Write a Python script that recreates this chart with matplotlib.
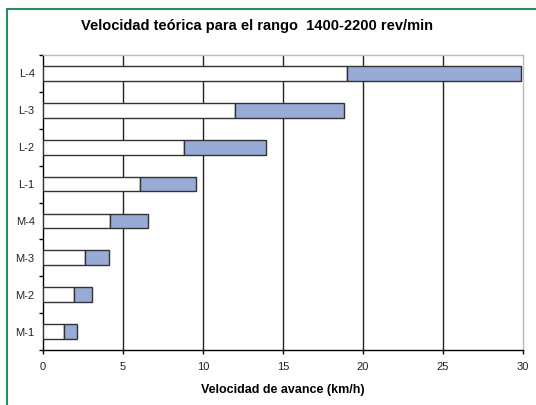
import matplotlib
matplotlib.use("Agg")
import matplotlib.pyplot as plt
from matplotlib.patches import Rectangle
import numpy as np

categories = ["M-1", "M-2", "M-3", "M-4", "L-1", "L-2", "L-3", "L-4"]
v_low = [1.29, 1.92, 2.65, 4.17, 6.08, 8.83, 12.0, 19.0]      # 1400 rev/min
v_high = [2.15, 3.04, 4.10, 6.56, 9.56, 13.96, 18.8, 29.9]    # 2200 rev/min
x_ticks = [0, 5, 10, 15, 20, 25, 30]

plt.rcParams['font.family'] = ['Liberation Sans', 'DejaVu Sans']

fig = plt.figure(figsize=(5.36, 4.05), dpi=100)
ax = fig.add_axes([43/536, 1-350/405, 480/536, 295/405])

y = np.arange(len(categories))
low = np.array(v_low)
high = np.array(v_high)
ax.barh(y, low, height=0.4, color='white', edgecolor='#333333', linewidth=1, zorder=3)
ax.barh(y, high - low, left=low, height=0.4, color='#98aad6', edgecolor='#333333', linewidth=1, zorder=3)

ax.set_xlim(0, 30)
ax.set_ylim(-0.5, len(categories) - 0.5)
ax.set_xticks(x_ticks)
ax.set_xticklabels([str(t) for t in x_ticks], fontsize=8, color='#222222')
ax.set_yticks(y)
ax.set_yticklabels(categories, fontsize=8, color='#222222')
ax.tick_params(axis='y', length=0, pad=6)
ax.set_yticks(np.arange(-0.5, len(categories)), minor=True)
ax.tick_params(axis='y', which='minor', length=3, width=1, color='black', direction='out')
ax.tick_params(axis='x', length=3, width=1, color='black', direction='out', pad=6)

for t in x_ticks[1:-1]:
    ax.axvline(t, color='#222222', linewidth=1, zorder=1)

for s in ['top', 'right']:
    ax.spines[s].set_color('#bbbbbb')
    ax.spines[s].set_linewidth(1)
for s in ['left', 'bottom']:
    ax.spines[s].set_color('black')
    ax.spines[s].set_linewidth(1)

ax.set_xlabel("Velocidad de avance (km/h)", fontsize=9, fontweight='bold', labelpad=8)
fig.text(257/536, 1-26/405, "Velocidad teórica para el rango  1400-2200 rev/min",
         ha='center', va='center', fontsize=10.5, fontweight='bold')

# green frame (right/bottom edges lie outside the image)
fig.patches.append(Rectangle((6.5/536, -0.05), 1.1, 1 - 8.5/405 + 0.05,
                             transform=fig.transFigure, fill=False,
                             edgecolor='#2a8c5c', linewidth=1.5))

fig.savefig("out.png", dpi=100)
